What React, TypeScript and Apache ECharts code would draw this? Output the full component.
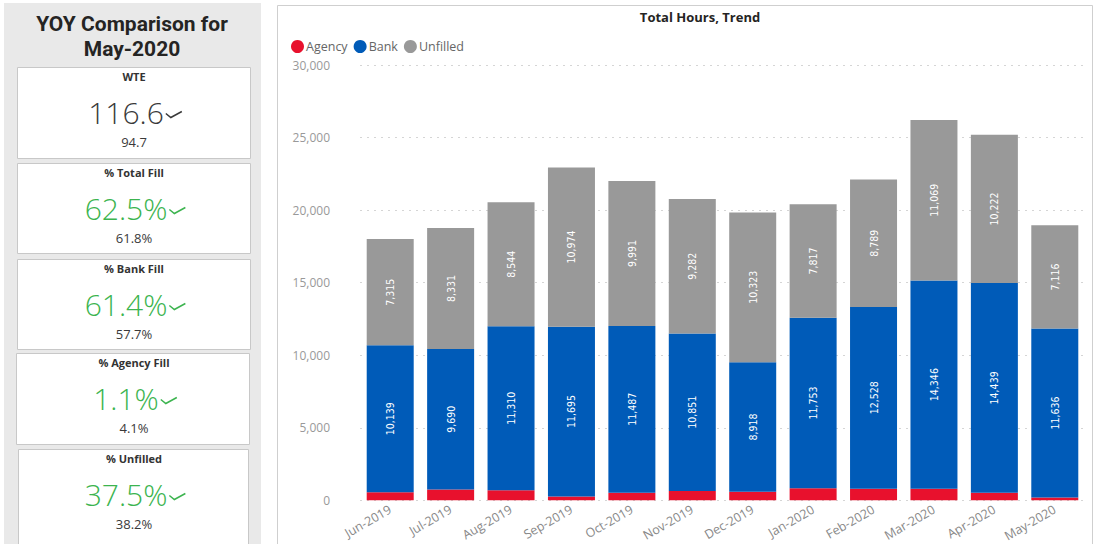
import React, { useEffect, useRef } from "react";
import * as echarts from "echarts";

const months = ["Jun-2019", "Jul-2019", "Aug-2019", "Sep-2019", "Oct-2019", "Nov-2019", "Dec-2019", "Jan-2020", "Feb-2020", "Mar-2020", "Apr-2020", "May-2020"];
const agency = [550, 740, 690, 270, 530, 640, 600, 830, 800, 800, 530, 200];
const bank = [10139, 9690, 11310, 11695, 11487, 10851, 8918, 11753, 12528, 14346, 14439, 11636];
const unfilled = [7315, 8331, 8544, 10974, 9991, 9282, 10323, 7817, 8789, 11069, 10222, 7116];
const yTicks = [0, 5000, 10000, 15000, 20000, 25000, 30000];

const kpiTitles = ["WTE", "% Total Fill", "% Bank Fill", "% Agency Fill", "% Unfilled"];
const kpiValues = ["116.6", "62.5%", "61.4%", "1.1%", "37.5%"];
const kpiPrevious = ["94.7", "61.8%", "57.7%", "4.1%", "38.2%"];
const kpiGreen = [false, true, true, true, true];
const panelTitle = ["YOY Comparison for", "May-2020"];

const FONT = "'Open Sans', 'Noto Sans', sans-serif";
const TITLE_FONT = "Roboto, 'Liberation Sans', sans-serif";
const NARROW = "'Liberation Sans Narrow', 'DejaVu Sans Condensed', 'Roboto Condensed', sans-serif";

const cardBoxes = [
  { x: 17, y: 67, w: 233, h: 91 },
  { x: 17, y: 163, w: 233, h: 90 },
  { x: 17, y: 259, w: 233, h: 90 },
  { x: 16, y: 353, w: 233, h: 91 },
  { x: 18, y: 449, w: 230, h: 100 },
];

const fmt = (v: number) => v.toLocaleString("en-US");

function measure(text: string, font: string): number {
  const c = document.createElement("canvas").getContext("2d");
  if (!c) return text.length * 16;
  c.font = font;
  return c.measureText(text).width;
}

export default function App() {
  const ref = useRef<HTMLDivElement>(null);
  useEffect(() => {
    if (!ref.current) return;
    const chart = echarts.init(ref.current, null, { renderer: "svg" });

    const graphics: any[] = [
      { type: "rect", shape: { x: 4, y: 3, width: 257, height: 545 }, style: { fill: "#e9e9e9" }, z: 0 },
      { type: "rect", shape: { x: 277.5, y: 5.5, width: 815, height: 545 }, style: { fill: "#fff", stroke: "#cfcfcf", lineWidth: 1 }, z: 0 },
    ];
    panelTitle.forEach((t, i) => {
      graphics.push({
        type: "text",
        x: 132,
        y: 23.5 + i * 25,
        style: { text: t, font: `bold 21px ${TITLE_FONT}`, fill: "#252423", textAlign: "center", textVerticalAlign: "middle" },
        z: 5,
      });
    });

    const valueFont = `300 30px ${FONT}`;
    cardBoxes.forEach((b, i) => {
      graphics.push({
        type: "rect",
        shape: { x: b.x + 0.5, y: b.y + 0.5, width: b.w, height: b.h },
        style: { fill: "#fff", stroke: "#c8c8c8", lineWidth: 1 },
        z: 2,
      });
      graphics.push({
        type: "text",
        x: 134,
        y: b.y + 9,
        style: { text: kpiTitles[i], font: `bold 11px ${FONT}`, fill: "#333", textAlign: "center", textVerticalAlign: "middle" },
        z: 5,
      });
      const col = kpiGreen[i] ? "#3cb44f" : "#3a3a3a";
      const w = measure(kpiValues[i], valueFont);
      const left = 135 - (w + 18) / 2;
      const cy = b.y + 45.5;
      graphics.push({
        type: "text",
        x: left,
        y: cy,
        style: { text: kpiValues[i], font: valueFont, fill: col, textAlign: "left", textVerticalAlign: "middle" },
        z: 5,
      });
      const cx = left + w + 2;
      graphics.push({
        type: "polyline",
        shape: { points: [[cx, cy + 1], [cx + 5, cy + 5], [cx + 16, cy - 1]] },
        style: { stroke: col, lineWidth: 1.5, fill: null },
        z: 5,
      });
      graphics.push({
        type: "text",
        x: 134,
        y: b.y + 74.5,
        style: { text: kpiPrevious[i], font: `13px ${FONT}`, fill: "#3a3a3a", textAlign: "center", textVerticalAlign: "middle" },
        z: 5,
      });
    });

    const labelCfg = {
      show: true,
      position: "inside",
      rotate: 90,
      color: "#fff",
      fontSize: 10.5,
      fontFamily: NARROW,
      formatter: (p: any) => fmt(p.value),
    };

    chart.setOption({
      animation: false,
      textStyle: { fontFamily: FONT },
      title: {
        text: "Total Hours, Trend",
        left: 695,
        textAlign: "center",
        top: 5,
        textStyle: { fontSize: 13, fontWeight: "bold", color: "#252423", fontFamily: FONT },
      },
      legend: {
        left: 286,
        top: 35,
        itemWidth: 13,
        itemHeight: 13,
        itemGap: 6,
        icon: "circle",
        textStyle: { color: "#666", fontSize: 12.5, fontFamily: FONT, padding: [0, 0, 0, -3] },
        data: ["Agency", "Bank", "Unfilled"],
      },
      grid: { left: 360, right: 10, top: 65, bottom: 43 },
      xAxis: {
        type: "category",
        data: months,
        axisLine: { show: false },
        axisTick: { show: false },
        axisLabel: { rotate: 30, color: "#888", fontSize: 12.5, fontFamily: FONT, margin: 8 },
      },
      yAxis: {
        type: "value",
        min: yTicks[0],
        max: yTicks[yTicks.length - 1],
        interval: yTicks[1] - yTicks[0],
        axisLabel: { color: "#999", fontSize: 12, fontFamily: FONT, margin: 30, formatter: (v: number) => fmt(v) },
        splitLine: { lineStyle: { type: [2, 5], color: "#d5d5d5", width: 1 } },
      },
      graphic: graphics,
      series: [
        { name: "Agency", type: "bar", stack: "t", data: agency, barWidth: 47, itemStyle: { color: "#e8112d" } },
        { name: "Bank", type: "bar", stack: "t", data: bank, barWidth: 47, itemStyle: { color: "#005bb8" }, label: labelCfg },
        { name: "Unfilled", type: "bar", stack: "t", data: unfilled, barWidth: 47, itemStyle: { color: "#999999" }, label: labelCfg },
      ],
    });
    return () => chart.dispose();
  }, []);
  return <div ref={ref} style={{ position: "absolute", left: 0, top: 0, width: 1095, height: 544 }} />;
}
